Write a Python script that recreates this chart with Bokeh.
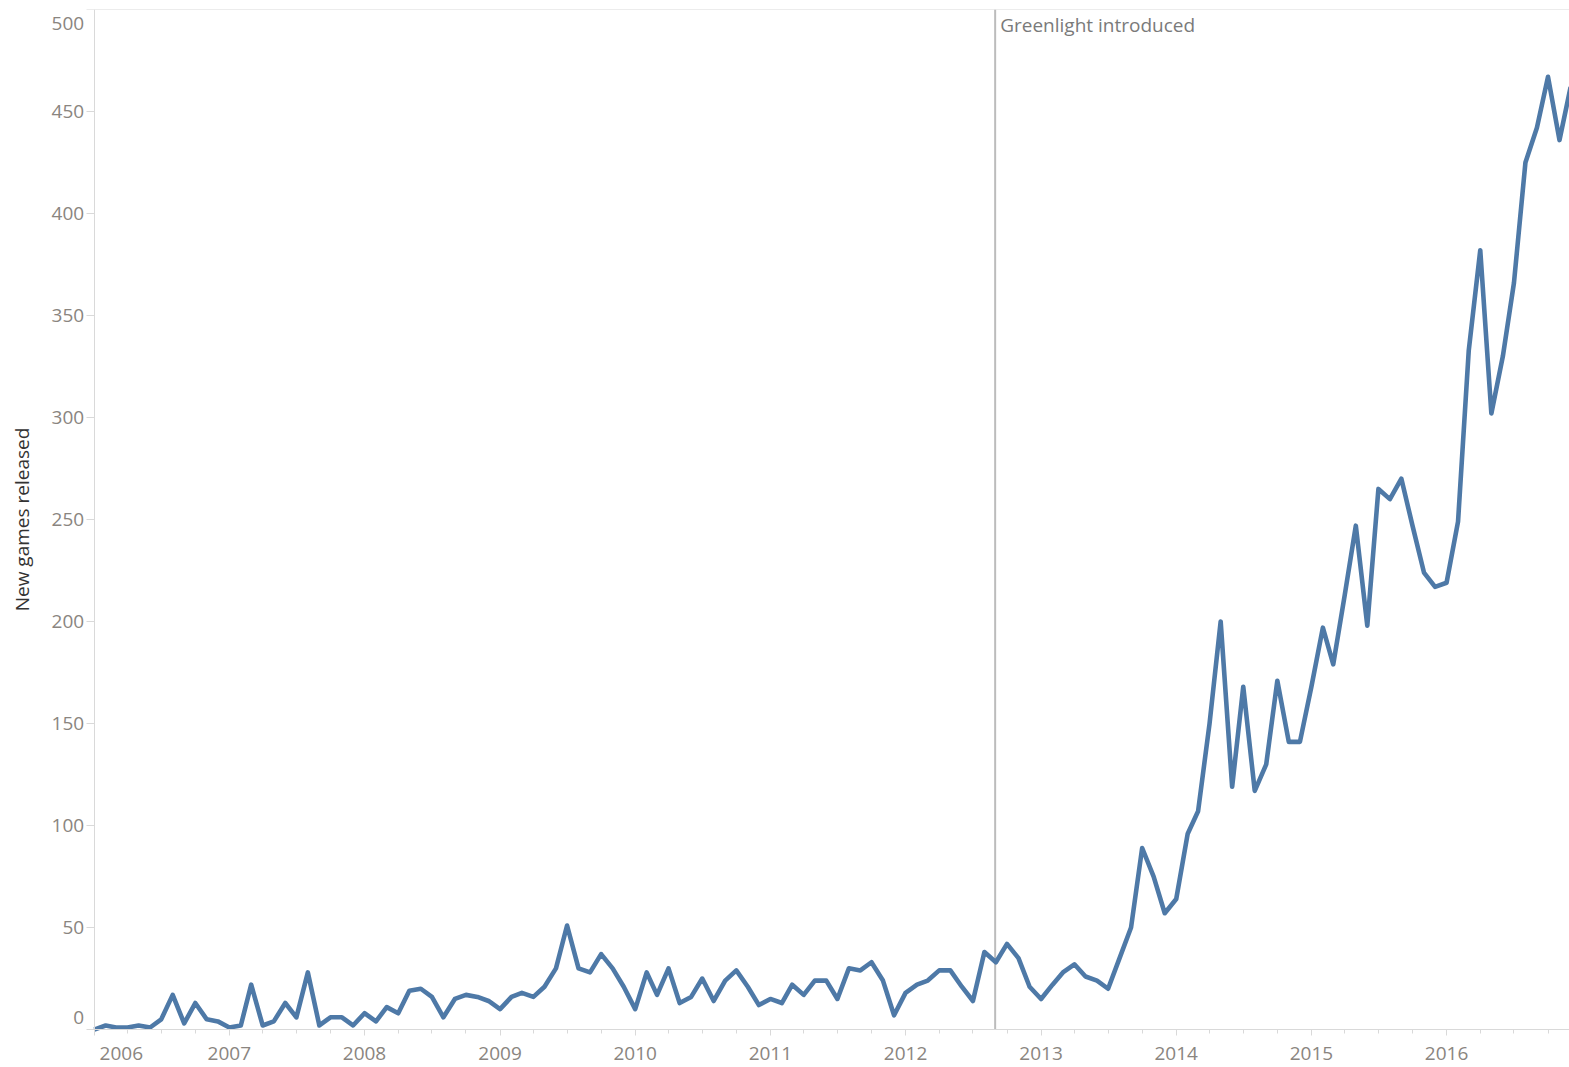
import pandas as pd
from bokeh.plotting import figure
from bokeh.models import Range1d, FixedTicker, Label, ColumnDataSource, DatetimeTickFormatter
from bokeh.embed import file_html
from bokeh.resources import INLINE

# ---- data: new games released per month ----
years = [2006, 2007, 2008, 2009, 2010, 2011, 2012, 2013, 2014, 2015, 2016]
v2006 = [0, 2, 1, 1, 2, 1, 5, 17, 3, 13, 5, 4]
v2007 = [1, 2, 22, 2, 4, 13, 6, 28, 2, 6, 6, 2]
v2008 = [8, 4, 11, 8, 19, 20, 16, 6, 15, 17, 16, 14]
v2009 = [10, 16, 18, 16, 21, 30, 51, 30, 28, 37, 30, 21]
v2010 = [10, 28, 17, 30, 13, 16, 25, 14, 24, 29, 21, 12]
v2011 = [15, 13, 22, 17, 24, 24, 15, 30, 29, 33, 24, 7]
v2012 = [18, 22, 24, 29, 29, 21, 14, 38, 33, 42, 35, 21]
v2013 = [15, 22, 28, 32, 26, 24, 20, 35, 50, 89, 75, 57]
v2014 = [64, 96, 107, 150, 200, 119, 168, 117, 130, 171, 141, 141]
v2015 = [168, 197, 179, 213, 247, 198, 265, 260, 270, 247, 224, 217]
v2016 = [219, 249, 333, 382, 302, 330, 366, 425, 442, 467, 436, 462]

counts = v2006 + v2007 + v2008 + v2009 + v2010 + v2011 + v2012 + v2013 + v2014 + v2015 + v2016
months = pd.date_range("2006-01-01", periods=len(counts), freq="MS")

y_ticks = [0, 50, 100, 150, 200, 250, 300, 350, 400, 450, 500]
y_title = "New games released"
event_date = "2012-08-30"
event_text = "Greenlight introduced"
axis_start = "2006-01-01"     # where the y axis sits
view_start = "2005-04-23"     # left edge of the canvas (room for the y axis)
view_end = "2016-11-28"       # right edge of the canvas
y_view_min = -18.6            # room below the x axis

FONT = "Open Sans"
TICK_COLOR = "#8a8580"
RULE = "#d9d9d9"
NBSP = "\u00a0"


def ms(d):
    return pd.Timestamp(d).value / 1e6


src = ColumnDataSource(dict(month=months, count=counts))

p = figure(width=1569, height=1067, x_axis_type="datetime",
           output_backend="svg", toolbar_location=None,
           x_range=Range1d(ms(view_start), ms(view_end)),
           y_range=Range1d(y_view_min, y_ticks[-1]),
           min_border_left=0, min_border_right=0, min_border_top=9, min_border_bottom=0)
p.outline_line_color = None
p.xgrid.visible = False
p.ygrid.visible = False
p.background_fill_color = "white"
p.border_fill_color = "white"

# top border rule and event marker line
p.segment(x0=[ms(axis_start)], y0=[y_ticks[-1]], x1=[ms(view_end)], y1=[y_ticks[-1]],
          line_color=RULE, line_width=1)
p.segment(x0=[ms(event_date)], y0=[y_ticks[0]], x1=[ms(event_date)], y1=[y_ticks[-1]],
          line_color="#bcbcbc", line_width=2)

p.line(x="month", y="count", source=src, line_color="#4e79a7", line_width=4.6, line_join="round")

# ---- y axis ----
ya = p.yaxis[0]
ya.fixed_location = ms(axis_start)
ya.bounds = (y_ticks[0], y_ticks[-1])
ya.ticker = FixedTicker(ticks=y_ticks)
ya.major_label_overrides = {y_ticks[0]: "", y_ticks[-1]: ""}
ya.minor_tick_line_color = None
ya.major_tick_in = 0
ya.major_tick_out = 8
ya.major_tick_line_color = RULE
ya.axis_line_color = RULE
ya.major_label_standoff = 2
ya.major_label_text_font = FONT
ya.major_label_text_font_size = "19px"
ya.major_label_text_color = TICK_COLOR
ya.axis_label = y_title
ya.axis_label_text_font = FONT
ya.axis_label_text_font_size = "19px"
ya.axis_label_text_font_style = "normal"
ya.axis_label_text_color = "#333333"
ya.axis_label_standoff = 14

# end labels of the y axis sit inside the plot edge, as in the original
for val, off in ((y_ticks[0], 12), (y_ticks[-1], -14)):
    p.add_layout(Label(x=ms(axis_start), y=val, x_offset=-10, y_offset=off, text=str(val),
                       text_align="right", text_baseline="middle", text_font=FONT,
                       text_font_size="19px", text_color=TICK_COLOR))

# ---- x axis ----
year_ticks = [ms(f"{y}-01-01") for y in years]
quarter_ticks = [ms(d) for d in pd.date_range("2006-01-01", "2016-12-01", freq="QS")]
xa = p.xaxis[0]
xa.fixed_location = y_ticks[0]
xa.bounds = (ms(axis_start), ms(view_end))
xa.ticker = FixedTicker(ticks=year_ticks, minor_ticks=quarter_ticks)
xa.formatter = DatetimeTickFormatter(years="%Y", months="%Y", days="%Y")
xa.major_label_overrides = {year_ticks[0]: NBSP * 11 + str(years[0])}
xa.major_label_text_font = FONT
xa.major_label_text_font_size = "19px"
xa.major_label_text_color = TICK_COLOR
xa.major_label_standoff = 4
xa.major_tick_in = 0
xa.major_tick_out = 6
xa.minor_tick_in = 0
xa.minor_tick_out = 4
xa.major_tick_line_color = RULE
xa.minor_tick_line_color = RULE
xa.axis_line_color = RULE

# event annotation
p.add_layout(Label(x=ms(event_date), y=y_ticks[-1], x_offset=5, y_offset=-2, text=event_text,
                   text_align="left", text_baseline="top", text_font=FONT,
                   text_font_size="19px", text_color="#7a7a7a"))

open("out.html", "w").write(file_html(p, INLINE))
